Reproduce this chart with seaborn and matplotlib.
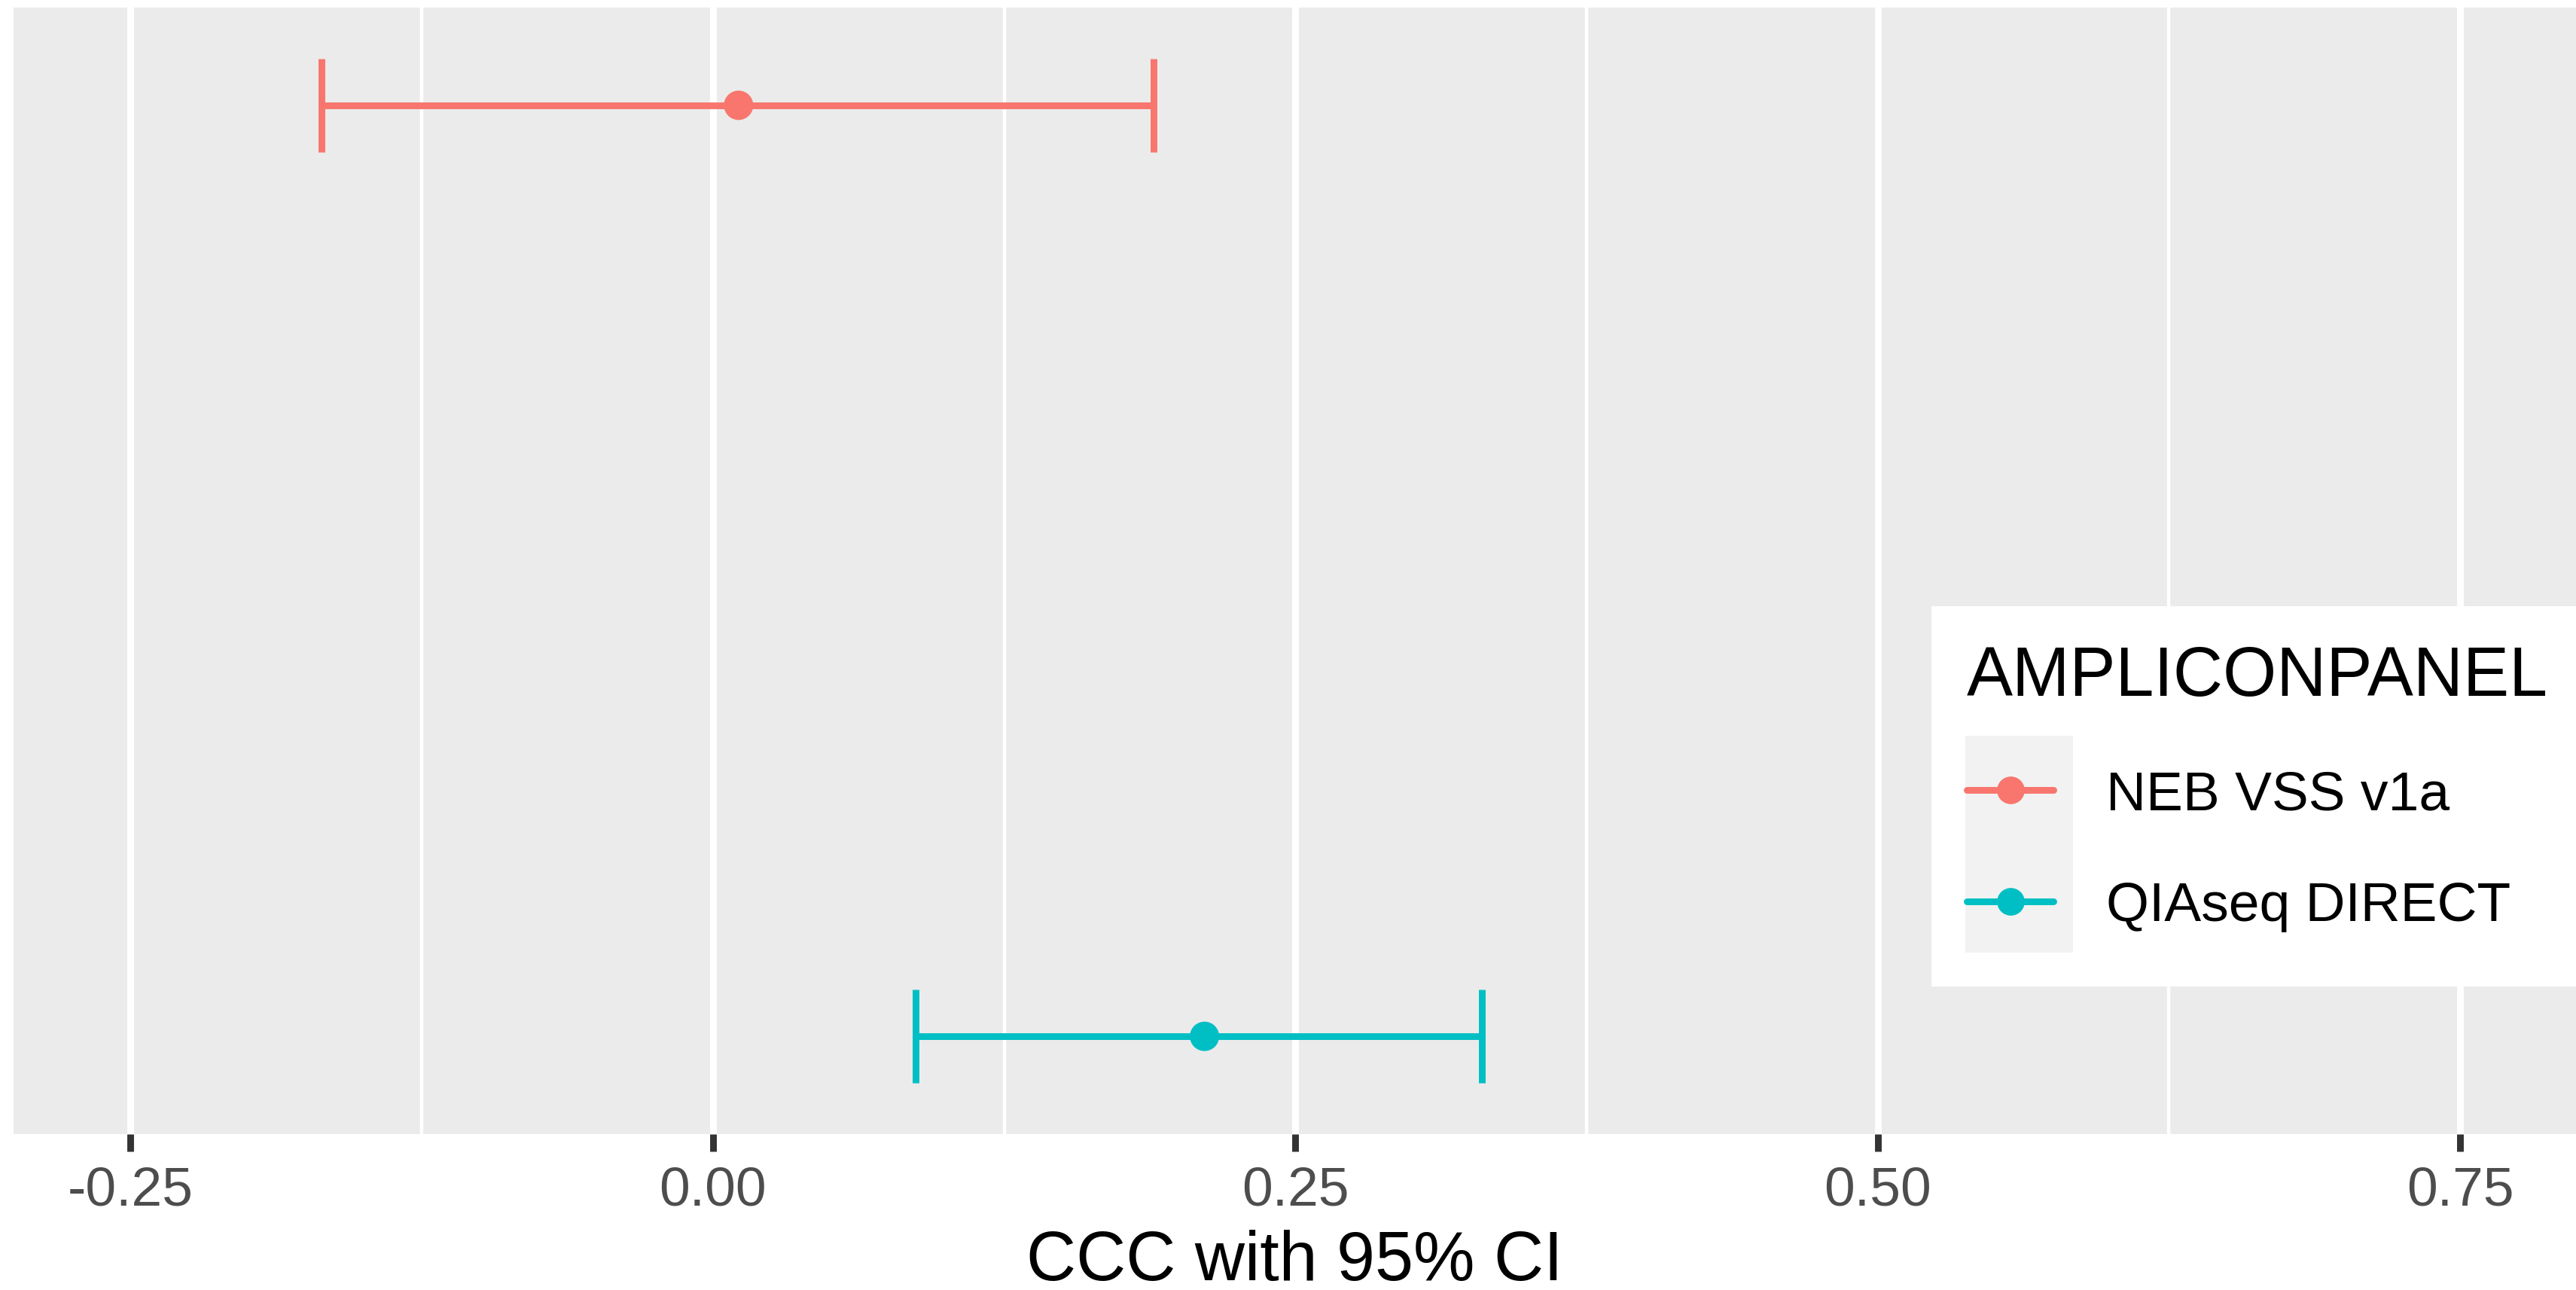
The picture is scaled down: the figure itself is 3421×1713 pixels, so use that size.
import matplotlib
matplotlib.use("Agg")
import matplotlib.pyplot as plt
from matplotlib.lines import Line2D
from matplotlib.patches import Rectangle
from matplotlib.ticker import MultipleLocator
import seaborn as sns

# data
panels = ["NEB VSS v1a", "QIAseq DIRECT"]
ccc = [0.011, 0.211]
ci_low = [-0.168, 0.087]
ci_high = [0.189, 0.330]
colors = ["#F8766D", "#00BFC4"]
x_ticks = [-0.25, 0.0, 0.25, 0.5, 0.75]
x_tick_labels = ["-0.25", "0.00", "0.25", "0.50", "0.75"]

W, H, DPI = 3421, 1714, 600

sns.set_theme(style="darkgrid", rc={
    "axes.facecolor": "#EBEBEB",
    "grid.color": "white",
    "axes.edgecolor": "#EBEBEB",
    "text.color": "black",
})
plt.rcParams["font.family"] = ["Liberation Sans", "DejaVu Sans"]

fig = plt.figure(figsize=(W / DPI, H / DPI), dpi=DPI)
# panel in pixels: left 18, top 11, bottom 1507, right edge of image
ax = fig.add_axes([18 / W, 1 - 1507 / H, (W - 18) / W, (1507 - 11) / H])

lw = 1.07  # ggplot size 0.5 line

xerr = [[c - lo for c, lo in zip(ccc, ci_low)],
        [hi - c for c, hi in zip(ccc, ci_high)]]
for i, name in enumerate(panels):
    ax.errorbar(x=[ccc[i]], y=[i], xerr=[[xerr[0][i]], [xerr[1][i]]],
                fmt="none", ecolor=colors[i], elinewidth=lw,
                capsize=7.44, capthick=lw, zorder=2)

sns.scatterplot(x=ccc, y=[0, 1], hue=panels, palette=colors, s=21.9,
                linewidth=0, legend=False, ax=ax, zorder=3)

ax.set_xlim(-0.3002, 0.7997)
ax.set_ylim(1.105, -0.105)
ax.set_xticks(x_ticks)
ax.set_xticklabels(x_tick_labels)
ax.xaxis.set_minor_locator(MultipleLocator(0.125))
ax.set_yticks([])
ax.grid(False)
ax.grid(True, axis="x", which="major", color="white", linewidth=lw)
ax.grid(True, axis="x", which="minor", color="white", linewidth=lw / 2)
for s in ax.spines.values():
    s.set_visible(False)
ax.tick_params(axis="x", which="major", bottom=True, length=2.75, width=lw,
               color="#333333", labelcolor="#4D4D4D", labelsize=8.8, pad=2.2)
ax.tick_params(axis="x", which="minor", bottom=False)
ax.set_ylabel("")
ax.set_xlabel("CCC with 95% CI", fontsize=11, color="black", va="baseline")
ax.xaxis.set_label_coords(0.5, -(1700 - 1507) / (1507 - 11))

# legend background (ggplot style white box + grey key cells)
fig.patches.append(Rectangle((2565 / W, 1 - 1311 / H), (W - 2565) / W, (1311 - 806) / H,
                             transform=fig.transFigure, facecolor="white",
                             edgecolor="none", zorder=3))
fig.patches.append(Rectangle((2610 / W, 1 - 1266 / H), (2753 - 2610) / W, (1266 - 978) / H,
                             transform=fig.transFigure, facecolor="#F2F2F2",
                             edgecolor="none", zorder=4))

handles = [Line2D([], [], color=c, marker="o", markersize=4.4, linewidth=lw,
                  markeredgewidth=0) for c in colors]
leg = fig.legend(handles, panels, title="AMPLICONPANEL", loc="upper left",
                 bbox_to_anchor=(2612 / W, 1 - 857 / H), frameon=False,
                 borderpad=0, borderaxespad=0, fontsize=8.8, title_fontsize=11,
                 handlelength=1.57, handletextpad=0.95, labelspacing=1.1,
                 alignment="left", labelcolor="black")
leg.get_title().set_color("black")
leg.set_zorder(5)

fig.savefig("out.png", dpi=DPI)
